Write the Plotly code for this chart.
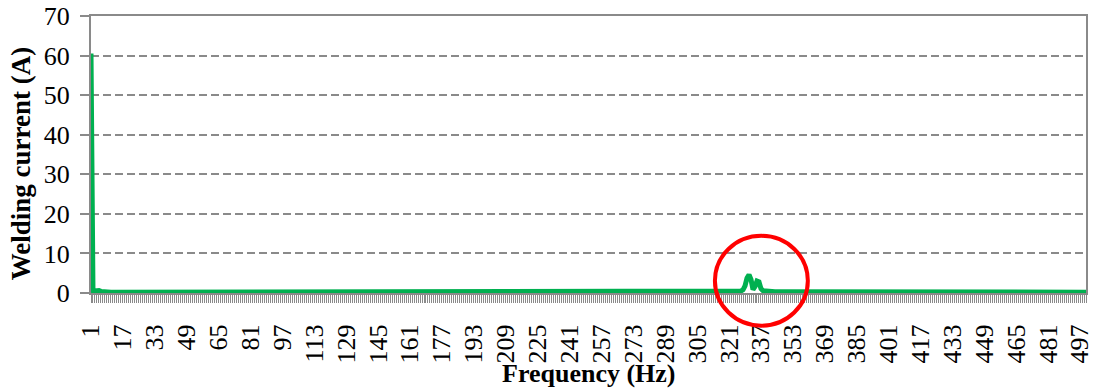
import plotly.graph_objects as go

# ---------------- data ----------------
frequency = list(range(1, 501))  # categories 1..500 (Hz)

current = [
    60.5, 0.1, 0.5, 0.7, 0.6, 0.4, 0.3, 0.25, 0.2, 0.2, 0.2, 0.2, 0.2, 0.2, 0.2, 0.2, 0.2, 0.2, 0.2, 0.2,
    0.2, 0.2, 0.2, 0.2, 0.2, 0.2, 0.2, 0.2, 0.2, 0.2, 0.2, 0.2, 0.2, 0.2, 0.2, 0.2, 0.2, 0.2, 0.2, 0.2,
    0.2, 0.2, 0.2, 0.2, 0.2, 0.2, 0.2, 0.2, 0.2, 0.2, 0.2, 0.2, 0.2, 0.2, 0.2, 0.2, 0.2, 0.2, 0.2, 0.2,
    0.2, 0.2, 0.2, 0.2, 0.2, 0.2, 0.2, 0.2, 0.2, 0.2, 0.2, 0.2, 0.2, 0.2, 0.2, 0.2, 0.2, 0.2, 0.2, 0.2,
    0.2, 0.2, 0.2, 0.2, 0.2, 0.2, 0.2, 0.2, 0.2, 0.2, 0.2, 0.2, 0.2, 0.2, 0.2, 0.2, 0.2, 0.2, 0.2, 0.2,
    0.2, 0.2, 0.2, 0.2, 0.2, 0.2, 0.2, 0.2, 0.2, 0.2, 0.2, 0.2, 0.2, 0.2, 0.2, 0.2, 0.2, 0.2, 0.2, 0.2,
    0.2, 0.2, 0.2, 0.2, 0.2, 0.2, 0.2, 0.2, 0.2, 0.2, 0.2, 0.2, 0.2, 0.2, 0.2, 0.2, 0.2, 0.2, 0.2, 0.2,
    0.2, 0.2, 0.2, 0.2, 0.2, 0.2, 0.2, 0.2, 0.2, 0.2, 0.2, 0.2, 0.2, 0.2, 0.2, 0.2, 0.2, 0.2, 0.2, 0.2,
    0.2, 0.2, 0.2, 0.2, 0.2, 0.2, 0.2, 0.2, 0.2, 0.2, 0.2, 0.2, 0.2, 0.2, 0.2, 0.2, 0.2, 0.2, 0.2, 0.25,
    0.25, 0.2, 0.2, 0.2, 0.2, 0.2, 0.2, 0.2, 0.2, 0.2, 0.2, 0.2, 0.2, 0.2, 0.2, 0.2, 0.2, 0.2, 0.2, 0.2,
    0.2, 0.2, 0.2, 0.2, 0.2, 0.2, 0.2, 0.2, 0.2, 0.2, 0.2, 0.2, 0.2, 0.2, 0.2, 0.2, 0.2, 0.2, 0.2, 0.2,
    0.2, 0.2, 0.2, 0.2, 0.2, 0.2, 0.2, 0.2, 0.2, 0.2, 0.2, 0.2, 0.2, 0.2, 0.2, 0.2, 0.2, 0.2, 0.2, 0.2,
    0.2, 0.2, 0.2, 0.2, 0.2, 0.2, 0.2, 0.2, 0.2, 0.2, 0.2, 0.2, 0.2, 0.2, 0.2, 0.2, 0.2, 0.2, 0.2, 0.2,
    0.2, 0.2, 0.2, 0.2, 0.2, 0.2, 0.2, 0.2, 0.2, 0.2, 0.2, 0.2, 0.2, 0.25, 0.25, 0.25, 0.25, 0.25, 0.25, 0.25,
    0.25, 0.25, 0.25, 0.25, 0.25, 0.25, 0.25, 0.25, 0.25, 0.25, 0.25, 0.25, 0.25, 0.25, 0.25, 0.25, 0.25, 0.25, 0.25, 0.25,
    0.3, 0.3, 0.3, 0.3, 0.3, 0.3, 0.3, 0.3, 0.3, 0.3, 0.3, 0.3, 0.3, 0.3, 0.3, 0.3, 0.3, 0.35, 0.35, 0.35,
    0.35, 0.35, 0.35, 0.4, 0.4, 0.4, 0.5, 0.8, 1.8, 3.8, 4.6, 3.4, 0.9, 1.6, 3.0, 2.8, 1.1, 0.6, 0.5, 0.4,
    0.35, 0.3, 0.3, 0.3, 0.3, 0.3, 0.3, 0.3, 0.25, 0.25, 0.25, 0.25, 0.25, 0.25, 0.25, 0.25, 0.25, 0.25, 0.25, 0.25,
    0.2, 0.2, 0.2, 0.2, 0.2, 0.2, 0.2, 0.2, 0.2, 0.2, 0.2, 0.2, 0.2, 0.2, 0.2, 0.2, 0.2, 0.2, 0.2, 0.2,
    0.2, 0.2, 0.2, 0.2, 0.2, 0.2, 0.2, 0.2, 0.2, 0.2, 0.2, 0.2, 0.2, 0.2, 0.2, 0.2, 0.2, 0.2, 0.2, 0.2,
    0.2, 0.2, 0.2, 0.2, 0.2, 0.2, 0.2, 0.2, 0.2, 0.2, 0.2, 0.2, 0.2, 0.2, 0.2, 0.2, 0.2, 0.2, 0.2, 0.2,
    0.2, 0.2, 0.2, 0.2, 0.2, 0.2, 0.2, 0.2, 0.2, 0.2, 0.2, 0.2, 0.2, 0.2, 0.2, 0.2, 0.2, 0.2, 0.2, 0.2,
    0.2, 0.2, 0.2, 0.2, 0.2, 0.2, 0.2, 0.2, 0.2, 0.2, 0.2, 0.2, 0.2, 0.2, 0.2, 0.2, 0.2, 0.2, 0.2, 0.2,
    0.2, 0.2, 0.2, 0.2, 0.2, 0.2, 0.2, 0.2, 0.2, 0.2, 0.2, 0.2, 0.2, 0.2, 0.2, 0.2, 0.2, 0.2, 0.2, 0.2,
    0.2, 0.2, 0.2, 0.2, 0.2, 0.2, 0.2, 0.2, 0.2, 0.2, 0.2, 0.2, 0.2, 0.2, 0.2, 0.2, 0.2, 0.2, 0.2, 0.2,
]

x_tick_labels = [1, 17, 33, 49, 65, 81, 97, 113, 129, 145, 161, 177, 193, 209, 225, 241,
                 257, 273, 289, 305, 321, 337, 353, 369, 385, 401, 417, 433, 449, 465, 481, 497]
y_ticks = [0, 10, 20, 30, 40, 50, 60, 70]

x_title = "Frequency (Hz)"
y_title = "Welding current (A)"

# highlight circle (centre in data units, radii in data units)
circle_center_x = 337.2
circle_center_y = 3.1
circle_rx = 23.3
circle_ry = 11.35

# ---------------- figure ----------------
FONT = "Liberation Serif, Times New Roman, serif"
GRAY = "#8a8a8a"
XMIN, XMAX = frequency[0], frequency[-1]
YMIN, YMAX = y_ticks[0], y_ticks[-1]

fig = go.Figure()
fig.add_trace(go.Scatter(
    x=frequency, y=current, mode="lines",
    line=dict(color="#00b050", width=5),
    showlegend=False, hoverinfo="skip",
))

def fx(v):
    return (v - XMIN) / (XMAX - XMIN)

def fy(v):
    return (v - YMIN) / (YMAX - YMIN)

fig.add_shape(
    type="circle", xref="x domain", yref="y domain",
    x0=fx(circle_center_x - circle_rx), x1=fx(circle_center_x + circle_rx),
    y0=fy(circle_center_y - circle_ry), y1=fy(circle_center_y + circle_ry),
    line=dict(color="#ff0000", width=4), layer="above",
)

fig.add_annotation(
    text="<b>" + y_title + "</b>", xref="paper", yref="paper",
    x=-0.0704, y=0.468, xanchor="center", yanchor="middle",
    textangle=-90, showarrow=False,
    font=dict(family=FONT, size=27, color="black"),
)
fig.add_annotation(
    text="<b>" + x_title + "</b>", xref="paper", yref="paper",
    x=0.5, y=-0.292, xanchor="center", yanchor="middle",
    showarrow=False,
    font=dict(family=FONT, size=26, color="black"),
)

fig.update_xaxes(
    range=[XMIN, XMAX], automargin=False, ticklabeloverflow="allow",
    tickmode="array", tickvals=x_tick_labels, ticktext=[str(v) for v in x_tick_labels],
    tickangle=-90, ticks="outside", ticklen=8, tickwidth=1.3, tickcolor=GRAY,
    minor=dict(ticks="outside", ticklen=8, tickwidth=1.3, tickcolor=GRAY, dtick=1, tick0=1),
    showline=True, linecolor=GRAY, linewidth=2, mirror=True,
    showgrid=False, zeroline=False,
    tickfont=dict(family=FONT, size=26, color="black"),
    ticklabelstandoff=11,
)
fig.update_yaxes(
    range=[YMIN, YMAX], automargin=False, ticklabeloverflow="allow",
    tickmode="array", tickvals=y_ticks,
    ticks="outside", ticklen=9, tickwidth=1.6, tickcolor=GRAY,
    showline=True, linecolor=GRAY, linewidth=2, mirror=True,
    showgrid=True, gridcolor=GRAY, gridwidth=1.5, griddash="8px,4px",
    zeroline=False,
    tickfont=dict(family=FONT, size=26, color="black"),
    ticklabelstandoff=5,
)

fig.update_layout(
    width=1094, height=392,
    margin=dict(l=91, r=8, t=16, b=99, pad=0),
    paper_bgcolor="white", plot_bgcolor="white",
)

fig.write_html("out.html")
